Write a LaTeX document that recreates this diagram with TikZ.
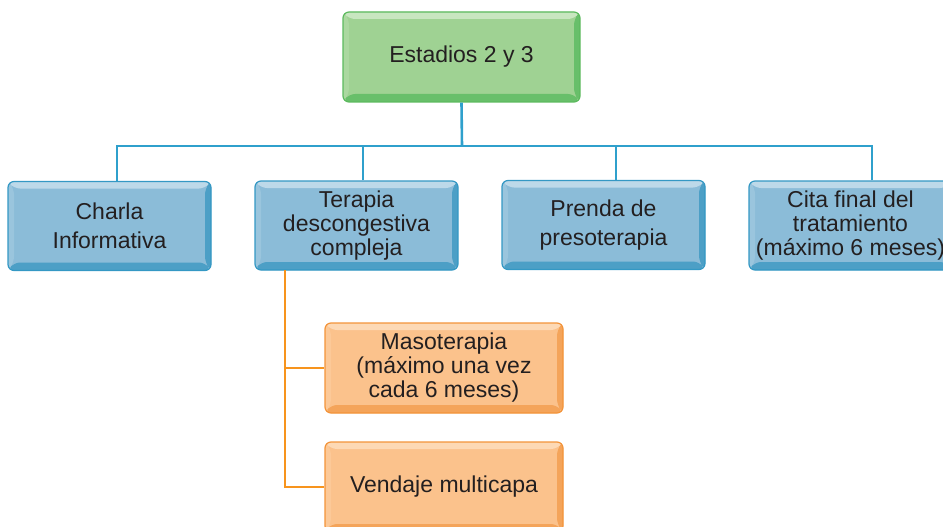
\documentclass[tikz,border=0pt]{standalone}
\usepackage{fontspec}
\setmainfont{Liberation Sans}
\usepackage{xcolor}
\usepackage{tikz}
\usetikzlibrary{positioning}
\definecolor{esText}{RGB}{35,31,32}
\definecolor{esGreenFill}{RGB}{159,210,147}
\definecolor{esGreenLight}{RGB}{200,230,192}
\definecolor{esGreenDark}{RGB}{104,191,106}
\definecolor{esGreenLine}{RGB}{92,186,94}
\definecolor{esBlueFill}{RGB}{139,188,216}
\definecolor{esBlueLight}{RGB}{189,217,233}
\definecolor{esBlueDark}{RGB}{76,159,198}
\definecolor{esBlueLine}{RGB}{52,152,196}
\definecolor{esOrangeFill}{RGB}{251,194,140}
\definecolor{esOrangeLight}{RGB}{253,217,181}
\definecolor{esOrangeDark}{RGB}{244,164,90}
\definecolor{esOrangeLine}{RGB}{243,148,58}
\definecolor{esWire}{RGB}{47,160,204}
\definecolor{esWireOrange}{RGB}{247,148,29}

\begin{document}
\begin{tikzpicture}[
    x=1pt, y=-1pt,
    bevelbox/.style n args={4}{rectangle, rounded corners=6pt, draw=#4,
    line width=1.2pt, fill=#1, text=esText, align=center, inner sep=1pt,
    font=\fontsize{23}{24}\selectfont,
    path picture={
        \fill[#2] (path picture bounding box.north west) -- (path picture bounding box.north east)
            -- ([shift={(-6pt,-7pt)}]path picture bounding box.north east)
            -- ([shift={(6pt,-7pt)}]path picture bounding box.north west) -- cycle;
        \fill[#1!70!#2] (path picture bounding box.north west) -- ([shift={(6pt,-7pt)}]path picture bounding box.north west)
            -- ([shift={(6pt,8pt)}]path picture bounding box.south west) -- (path picture bounding box.south west) -- cycle;
        \fill[#3] (path picture bounding box.north east) -- ([shift={(-6pt,-7pt)}]path picture bounding box.north east)
            -- ([shift={(-6pt,8pt)}]path picture bounding box.south east) -- (path picture bounding box.south east) -- cycle;
        \fill[#3] (path picture bounding box.south west) -- (path picture bounding box.south east)
            -- ([shift={(-6pt,8pt)}]path picture bounding box.south east)
            -- ([shift={(6pt,8pt)}]path picture bounding box.south west) -- cycle;
    }},
    greenbox/.style={bevelbox={esGreenFill}{esGreenLight}{esGreenDark}{esGreenLine},
    minimum width=237pt, minimum height=90pt},
    bluebox/.style={bevelbox={esBlueFill}{esBlueLight}{esBlueDark}{esBlueLine},
    minimum width=203pt, minimum height=89pt},
    orangebox/.style={bevelbox={esOrangeFill}{esOrangeLight}{esOrangeDark}{esOrangeLine},
    minimum width=238pt, minimum height=90pt},
    wire/.style={color=esWire, line width=2.6pt},
    buswire/.style={color=esWire, line width=1.8pt},
    subwire/.style={color=esWireOrange, line width=2.2pt}
]
\useasboundingbox (0,0) rectangle (943,527);

% Estadios
\node[greenbox] (est) at (461.5,57) {Estadios 2 y 3};

% first level
\node[bluebox] (charla) at (109.5,226) {Charla\\[5pt]Informativa};
\node[bluebox] (terapia) at (356.5,225.5) {Terapia\\descongestiva\\compleja};
\node[bluebox] (prenda) at (603.5,225) {Prenda de\\[5pt]presoterapia};
\node[bluebox] (cita) at (850.5,225.5) {Cita final del\\tratamiento\\(máximo 6 meses)};

% second level
\node[orangebox] (maso) at (444,368) {Masoterapia\\(máximo una vez\\cada 6 meses)};
\node[orangebox] (vend) at (444,487) {Vendaje multicapa};

\coordinate (bus) at (462,146);
\coordinate (sub) at (285,270);

\draw[wire] (est.south) -- (bus);
\draw[buswire] ([xshift=7.5pt]charla.north) |- (bus) -| ([xshift=21.5pt]cita.north);
\draw[wire] ([xshift=7.5pt]charla.north) -- ([xshift=7.5pt]charla.north |- bus);
\draw[wire] ([xshift=6.5pt]terapia.north) -- ([xshift=6.5pt]terapia.north |- bus);
\draw[wire] ([xshift=12.5pt]prenda.north) -- ([xshift=12.5pt]prenda.north |- bus);
\draw[wire] ([xshift=21.5pt]cita.north) -- ([xshift=21.5pt]cita.north |- bus);

\draw[subwire] (sub) |- (vend.west);
\draw[subwire] (sub |- maso.west) -- (maso.west);
\end{tikzpicture}
\end{document}
